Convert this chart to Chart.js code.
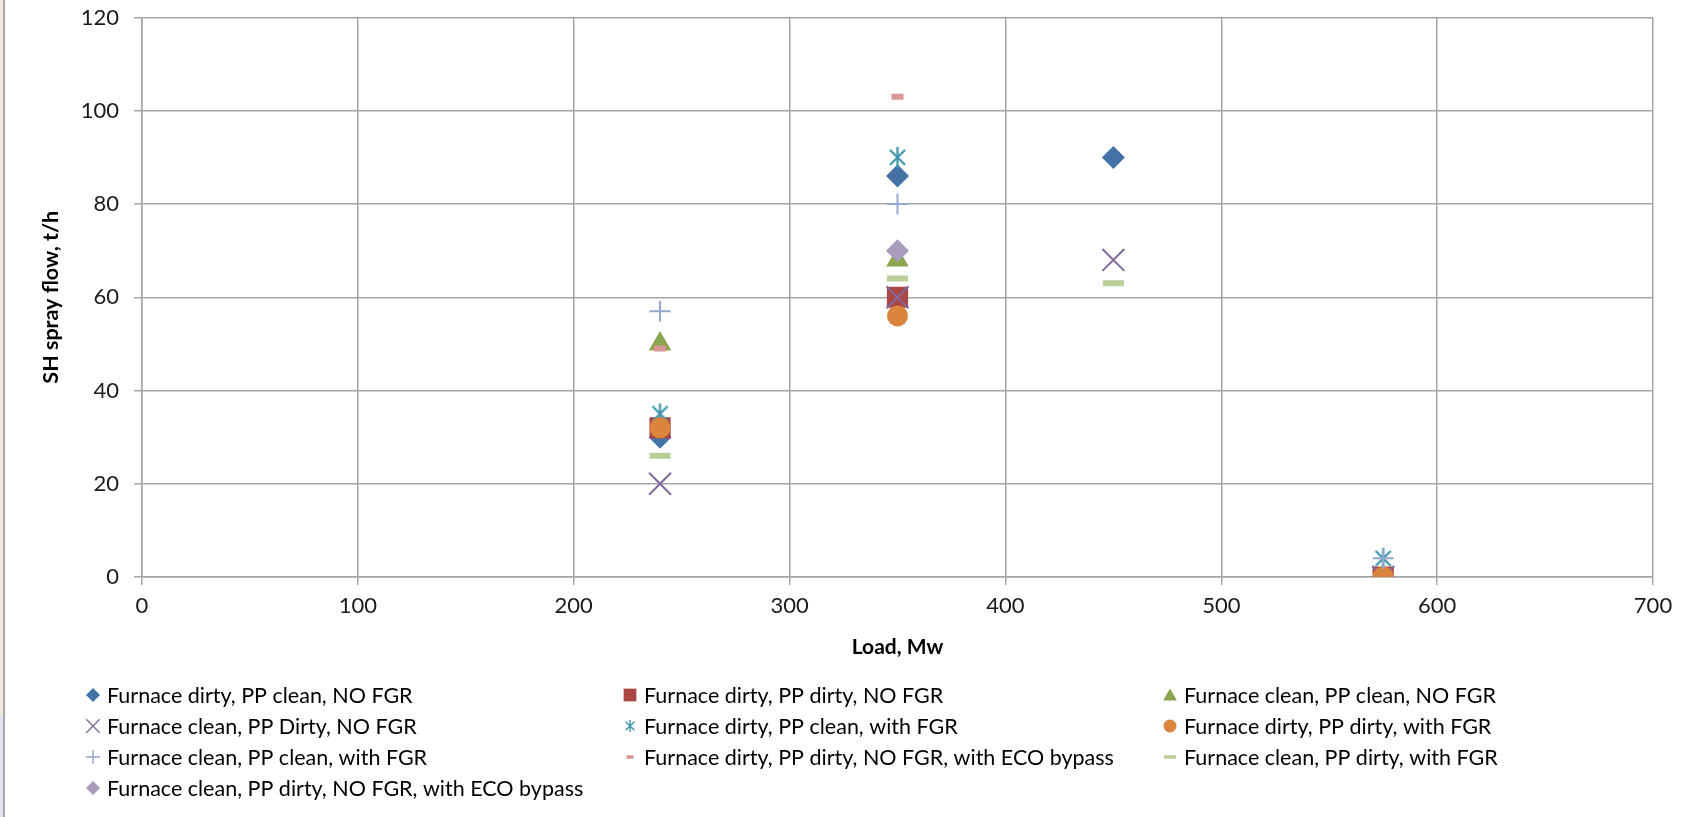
<!DOCTYPE html>
<html>
<head>
<meta charset="utf-8">
<script src="https://cdn.jsdelivr.net/npm/chart.js@4.4.1/dist/chart.umd.min.js"></script>
<style>
  html, body { margin: 0; padding: 0; background: #ffffff; }
  #wrap { position: relative; width: 1701px; height: 817px; overflow: hidden; }
  #edge1 { position: absolute; left: 0; top: 0; width: 3px; height: 717px; background: #f4e8dc; }
  #edge2 { position: absolute; left: 0; top: 717px; width: 3px; height: 100px; background: #dfe4ec; }
  #edge3 { position: absolute; left: 3px; top: 0; width: 2px; height: 817px; background: #a8a8a8; }
  canvas { position: absolute; left: 0; top: 0; }
</style>
</head>
<body>
<div id="wrap">
  <canvas id="c" width="1701" height="817"></canvas>
  <div id="edge1"></div><div id="edge2"></div><div id="edge3"></div>
</div>
<script>
// ---------- DATA ----------
const seriesLabels = [
  "Furnace dirty, PP clean, NO FGR",
  "Furnace dirty, PP dirty, NO FGR",
  "Furnace clean, PP clean, NO FGR",
  "Furnace clean, PP Dirty, NO FGR",
  "Furnace dirty, PP clean, with FGR",
  "Furnace dirty, PP dirty, with FGR",
  "Furnace clean, PP clean, with FGR",
  "Furnace dirty, PP dirty, NO FGR, with ECO bypass",
  "Furnace clean, PP dirty, with FGR",
  "Furnace clean, PP dirty, NO FGR, with ECO bypass"
];
const loadFdPcNo = [240, 350, 450, 575];
const flowFdPcNo = [30, 86, 90, 0];
const loadFdPdNo = [240, 350, 575];
const flowFdPdNo = [32, 60, 0];
const loadFcPcNo = [240, 350, 575];
const flowFcPcNo = [50, 68, 0];
const loadFcPdNo = [240, 350, 450, 575];
const flowFcPdNo = [20, 60, 68, 0];
const loadFdPcFgr = [240, 350, 575];
const flowFdPcFgr = [35, 90, 4];
const loadFdPdFgr = [240, 350, 575];
const flowFdPdFgr = [32, 56, 0];
const loadFcPcFgr = [240, 350, 575];
const flowFcPcFgr = [57, 80, 4];
const loadFdPdNoEco = [240, 350];
const flowFdPdNoEco = [49, 103];
const loadFcPdFgr = [240, 350, 450];
const flowFcPdFgr = [26, 64, 63];
const loadFcPdNoEco = [350];
const flowFcPdNoEco = [70];

const xTickValues = [0, 100, 200, 300, 400, 500, 600, 700];
const yTickValues = [0, 20, 40, 60, 80, 100, 120];
const xTitle = "Load, Mw";
const yTitle = "SH spray flow, t/h";

// ---------- STYLES ----------
const FONT = "Lato, 'Open Sans', sans-serif";
const colors = ["#4572A7", "#AA4643", "#89A54E", "#80699B", "#3D96AE",
                "#DB843D", "#93A9CF", "#D99694", "#B9CD96", "#A99BBD"];

function makeAsterisk(color, size, lw) {
  const c = document.createElement('canvas');
  c.width = size; c.height = size;
  const g = c.getContext('2d');
  g.strokeStyle = color; g.lineWidth = lw; g.lineCap = 'butt';
  const m = size / 2, a = size / 2 - 1;
  const d = a * 0.72;
  g.beginPath();
  g.moveTo(m - d, m - d); g.lineTo(m + d, m + d);
  g.moveTo(m + d, m - d); g.lineTo(m - d, m + d);
  g.moveTo(m, m - a); g.lineTo(m, m + a);
  g.stroke();
  return c;
}
const asteriskBig = makeAsterisk(colors[4], 23, 2.2);
const asteriskSmall = makeAsterisk(colors[4], 14, 1.4);

const markers = [
  { style: 'rectRot', radius: 11.5, bw: 0, legendRadius: 7 },
  { style: 'rect', radius: 15, bw: 0, legendRadius: 9 },
  { style: 'triangle', radius: 13, bw: 0, legendRadius: 8 },
  { style: 'crossRot', radius: 15.5, bw: 2, legendRadius: 9.5, legendBw: 1.4 },
  { style: asteriskBig, radius: 11, bw: 0, legendStyle: asteriskSmall },
  { style: 'circle', radius: 10.5, bw: 0, legendRadius: 6.5 },
  { style: 'cross', radius: 10.5, bw: 2, legendRadius: 7, legendBw: 1.4 },
  { style: 'line', radius: 6, bw: 6, legendRadius: 3.5, legendBw: 3.5 },
  { style: 'line', radius: 10.5, bw: 6, legendRadius: 6, legendBw: 3.5 },
  { style: 'rectRot', radius: 11.5, bw: 0, legendRadius: 7 }
];

const loads = [loadFdPcNo, loadFdPdNo, loadFcPcNo, loadFcPdNo, loadFdPcFgr,
               loadFdPdFgr, loadFcPcFgr, loadFdPdNoEco, loadFcPdFgr, loadFcPdNoEco];
const flows = [flowFdPcNo, flowFdPdNo, flowFcPcNo, flowFcPdNo, flowFdPcFgr,
               flowFdPdFgr, flowFcPcFgr, flowFdPdNoEco, flowFcPdFgr, flowFcPdNoEco];

const datasets = seriesLabels.map((label, i) => ({
  label: label,
  data: loads[i].map((x, k) => ({ x: x, y: flows[i][k] })),
  backgroundColor: colors[i],
  borderColor: colors[i],
  pointStyle: markers[i].style,
  pointRadius: markers[i].radius,
  pointBorderWidth: markers[i].bw,
  pointHoverRadius: markers[i].radius,
  showLine: false,
  order: seriesLabels.length - i
}));

// ---------- CUSTOM LEGEND (3 columns) ----------
const legendCols = [93, 630, 1170];
const legendRows = [695, 726, 757, 788];
const legendPlugin = {
  id: 'gridLegend',
  afterDraw(chart) {
    const ctx = chart.ctx;
    ctx.save();
    ctx.font = "21.5px " + FONT;
    ctx.textBaseline = 'middle';
    ctx.textAlign = 'left';
    chart.data.datasets.forEach((ds, i) => {
      const col = i % 3, row = Math.floor(i / 3);
      const x = legendCols[col], y = legendRows[row];
      const m = markers[i];
      ctx.fillStyle = colors[i];
      ctx.strokeStyle = colors[i];
      if (m.legendStyle) {
        ctx.drawImage(m.legendStyle, x - m.legendStyle.width / 2, y - m.legendStyle.height / 2);
      } else {
        ctx.lineWidth = m.legendBw || 0;
        Chart.helpers.drawPoint(ctx, {
          pointStyle: m.style, radius: m.legendRadius, rotation: 0,
          borderWidth: m.legendBw || 0
        }, x, y + (m.style === 'triangle' ? 1.5 : 0));
      }
      ctx.fillStyle = '#000000';
      ctx.fillText(ds.label, x + 14, y + 1);
    });
    ctx.restore();
  }
};

const gridColor = '#a6a6a6';

new Chart(document.getElementById('c'), {
  type: 'scatter',
  data: { datasets: datasets },
  options: {
    responsive: false,
    animation: false,
    events: [],
    layout: { padding: { left: 0, right: 48, top: 17, bottom: 150 } },
    plugins: {
      legend: { display: false },
      tooltip: { enabled: false },
      title: { display: false }
    },
    scales: {
      x: {
        type: 'linear',
        min: 0, max: 700,
        afterBuildTicks: (s) => { s.ticks = xTickValues.map(v => ({ value: v })); },
        afterFit: (s) => { s.height = 90; s.paddingLeft = 0; s.paddingRight = 0; },
        grid: { color: gridColor, lineWidth: 1.5, tickLength: 8, drawTicks: true, tickColor: gridColor },
        border: { display: true, color: gridColor, width: 1.5 },
        ticks: { font: { family: FONT, size: 22 }, color: '#1a1a1a', padding: 8, maxRotation: 0 },
        title: { display: true, text: xTitle, font: { family: FONT, size: 21, weight: 'bold' }, color: '#000', padding: { top: 6, bottom: 7 } }
      },
      y: {
        type: 'linear',
        min: 0, max: 120,
        afterBuildTicks: (s) => { s.ticks = yTickValues.map(v => ({ value: v })); },
        afterFit: (s) => { s.width = 142; s.paddingTop = 0; s.paddingBottom = 0; },
        grid: { color: gridColor, lineWidth: 1.5, tickLength: 8, drawTicks: true, tickColor: gridColor },
        border: { display: true, color: gridColor, width: 1.5 },
        ticks: { font: { family: FONT, size: 22 }, color: '#1a1a1a', padding: 15 },
        title: { display: true, text: yTitle, font: { family: FONT, size: 21.5, weight: 'bold' }, color: '#000', padding: { top: 38, bottom: 0 } }
      }
    }
  },
  plugins: [legendPlugin]
});
</script>
</body>
</html>
